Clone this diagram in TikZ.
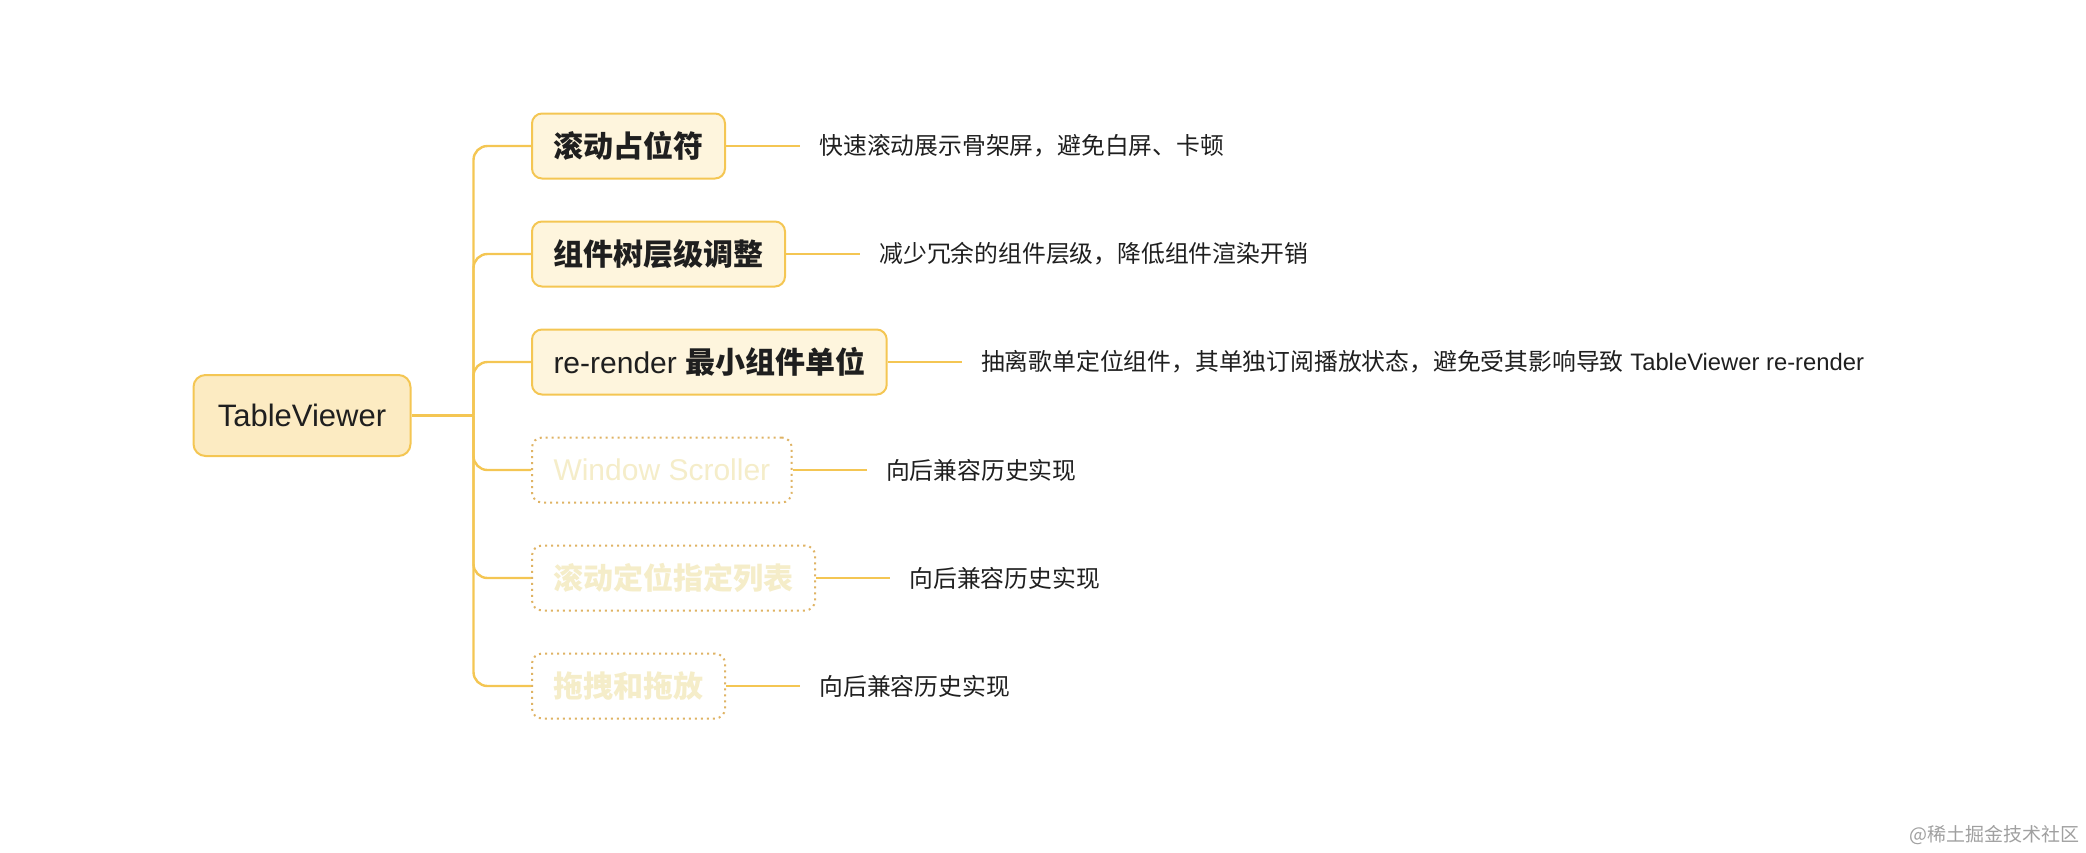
\documentclass[tikz,border=0pt]{standalone}
\usepackage{fontspec}
\setmainfont{Liberation Sans}
\newfontfamily\cjk{Noto Sans CJK SC}
\usepackage{tikz}
\usetikzlibrary{positioning}
\definecolor{rootFill}{HTML}{FCEBC2}
\definecolor{honeyLine}{HTML}{F4C653}
\definecolor{branchFill}{HTML}{FEF5DD}
\definecolor{ghostText}{HTML}{F5EDC9}
\definecolor{ghostEdge}{HTML}{DFB364}
\definecolor{inkDark}{HTML}{1F1F1F}
\definecolor{creditGray}{HTML}{A0A0A0}
\newcommand{\hanbold}[1]{{\cjk\bfseries #1}}

\begin{document}
\begin{tikzpicture}[
  x=0.5pt, y=-0.5pt,
  % Styles
  topic/.style={
    rectangle, rounded corners=6pt,
    minimum width=108.5pt, minimum height=40.5pt,
    draw=honeyLine, line width=1pt, fill=rootFill,
    font=\fontsize{15.5pt}{18pt}\selectfont, text=inkDark
  },
  branch/.style={
    rectangle, rounded corners=5pt,
    minimum height=32.5pt, inner xsep=10.75pt, inner ysep=2pt,
    draw=honeyLine, line width=1pt, fill=branchFill,
    font=\fontsize{15pt}{17pt}\selectfont, text=inkDark
  },
  ghost/.style={
    branch, draw=ghostEdge, dotted, fill=white, text=ghostText
  },
  note/.style={
    inner xsep=9.5pt, inner ysep=0pt,
    font=\fontsize{11.9pt}{14pt}\selectfont, text=inkDark
  },
  link/.style={
    draw=honeyLine, line width=1.2pt, rounded corners=7pt
  },
  watermark/.style={
    font=\cjk\fontsize{9.5pt}{11pt}\selectfont, text=creditGray, inner sep=0pt
  },
]

\useasboundingbox (0,0) rectangle (2086,852);

% === ROOT ===
\node[topic] (viewer) at (302,415.5) {TableViewer};
\coordinate (hub) at ([xshift=31pt]viewer.east);

% === BRANCHES ===
\node[branch, anchor=west] (placeholder) at (531,146) {\hanbold{滚动占位符}};
\node[branch, below=20.5pt of placeholder.south west, anchor=north west] (treelevel) {\hanbold{组件树层级调整}};
\node[branch, below=20.5pt of treelevel.south west, anchor=north west] (rerender) {re-render \hanbold{最小组件单位}};
\node[ghost, below=20.5pt of rerender.south west, anchor=north west] (winscroll) {Window Scroller};
\node[ghost, below=20.5pt of winscroll.south west, anchor=north west] (scrollto) {\hanbold{滚动定位指定列表}};
\node[ghost, below=20.5pt of scrollto.south west, anchor=north west] (dragdrop) {\hanbold{拖拽和拖放}};

% === NOTES ===
\node[note, right=37pt of placeholder] (placeholderNote) {{\cjk 快速滚动展示骨架屏，避免白屏、卡顿}};
\node[note, right=37pt of treelevel] (treelevelNote) {{\cjk 减少冗余的组件层级，降低组件渲染开销}};
\node[note, right=37pt of rerender] (rerenderNote) {{\cjk 抽离歌单定位组件，其单独订阅播放状态，避免受其影响导致} TableViewer re-render};
\node[note, right=37pt of winscroll] (winscrollNote) {{\cjk 向后兼容历史实现}};
\node[note, right=37pt of scrollto] (scrolltoNote) {{\cjk 向后兼容历史实现}};
\node[note, right=37pt of dragdrop] (dragdropNote) {{\cjk 向后兼容历史实现}};

% === Root to branches ===
\draw[link] (viewer.east) -- (hub);
\draw[link] (hub) |- (placeholder.west);
\draw[link] (hub) |- (treelevel.west);
\draw[link] (hub) |- (rerender.west);
\draw[link] (hub) |- (winscroll.west);
\draw[link] (hub) |- (scrollto.west);
\draw[link] (hub) |- (dragdrop.west);

% === Branches to notes ===
\draw[link] (placeholder.east) -- (placeholderNote.west);
\draw[link] (treelevel.east) -- (treelevelNote.west);
\draw[link] (rerender.east) -- (rerenderNote.west);
\draw[link] (winscroll.east) -- (winscrollNote.west);
\draw[link] (scrollto.east) -- (scrolltoNote.west);
\draw[link] (dragdrop.east) -- (dragdropNote.west);

% === Credit ===
\node[watermark, anchor=east] (credit) at (2080,835) {@稀土掘金技术社区};

\end{tikzpicture}
\end{document}
